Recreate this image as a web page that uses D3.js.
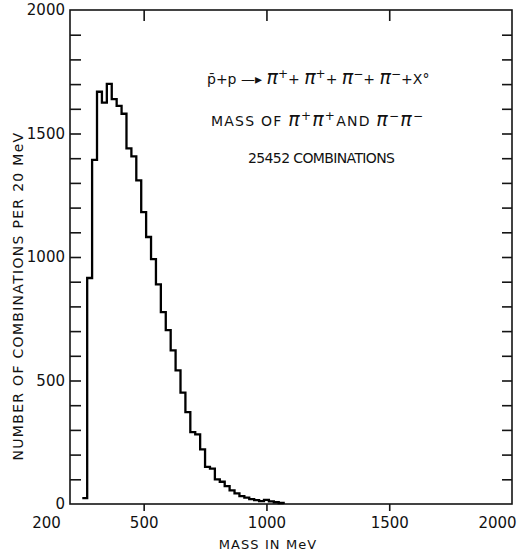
<!DOCTYPE html>
<html>
<head>
<meta charset="utf-8">
<script src="https://cdn.jsdelivr.net/npm/d3@7"></script>
<style>
  body { margin: 0; background: #fff; }
  svg text { font-family: "DejaVu Sans", sans-serif; fill: #111; }
</style>
</head>
<body>
<svg id="chart" width="518" height="556"></svg>
<script>
// Invariant mass histogram, 20 MeV bins
const binStart = 250;   // MeV, lower edge of first bin
const binWidth = 20;    // MeV
const counts = [24, 915, 1393, 1669, 1625, 1701, 1639, 1612, 1580, 1440,
                1407, 1310, 1182, 1081, 991, 889, 777, 704, 622, 541,
                451, 372, 291, 282, 221, 150, 143, 100, 90, 72,
                55, 43, 32, 26, 20, 16, 12, 17, 11, 7, 4];

const xLabelTicks = [200, 500, 1000, 1500, 2000];
const xInnerTicks = [500, 1000, 1500];
const yLabelTicks = [0, 500, 1000, 1500, 2000];
const yMinorTicks = d3.range(100, 2000, 100);

const svg = d3.select("#chart");

const x = d3.scaleLinear().domain([200, 2000]).range([70, 512]);
const y = d3.scaleLinear().domain([0, 2000]).range([504, 10]);

const ink = "#151515";
const plain = d3.format("d");

// frame
svg.append("rect")
  .attr("x", x(200)).attr("y", y(2000))
  .attr("width", x(2000) - x(200)).attr("height", y(0) - y(2000))
  .attr("fill", "none").attr("stroke", ink).attr("stroke-width", 1.6);

function styleAxis(g) {
  g.select(".domain").remove();
  g.selectAll(".tick line").attr("stroke", ink).attr("stroke-width", 1.6);
  g.selectAll(".tick text").attr("fill", ink).style("font-size", "15px");
}

// left axis: ticks every 100 pointing inward, labels every 500
svg.append("g")
  .attr("transform", `translate(${x(200)},0)`)
  .call(d3.axisLeft(y).tickValues(yMinorTicks).tickSize(-11).tickFormat(""))
  .call(styleAxis);
svg.append("g")
  .attr("transform", `translate(${x(200)},0)`)
  .call(d3.axisLeft(y).tickValues(yLabelTicks).tickSize(0).tickPadding(5).tickFormat(plain))
  .call(styleAxis);

// right axis: inward ticks every 100
svg.append("g")
  .attr("transform", `translate(${x(2000)},0)`)
  .call(d3.axisRight(y).tickValues(yMinorTicks).tickSize(-10).tickFormat(""))
  .call(styleAxis);

// top axis: inward ticks
svg.append("g")
  .attr("transform", `translate(0,${y(2000)})`)
  .call(d3.axisTop(x).tickValues(xInnerTicks).tickSize(-11).tickFormat(""))
  .call(styleAxis);

// bottom axis: outward ticks with labels
svg.append("g")
  .attr("transform", `translate(0,${y(0)})`)
  .call(d3.axisBottom(x).tickValues(xInnerTicks).tickSize(7).tickFormat(""))
  .call(styleAxis);
const bottomLabels = svg.append("g")
  .attr("transform", `translate(0,${y(0)})`)
  .call(d3.axisBottom(x).tickValues(xLabelTicks).tickSize(0).tickPadding(13).tickFormat(plain))
  .call(styleAxis);
// end labels sit inside the page edges
bottomLabels.selectAll(".tick text")
  .attr("dx", d => d === 200 ? -24 : d === 2000 ? -15 : 0);

// histogram outline
const pts = counts.map((c, i) => [binStart + i * binWidth, c]);
pts.push([binStart + counts.length * binWidth, 0]);
svg.append("path")
  .datum(pts)
  .attr("fill", "none")
  .attr("stroke", "#000")
  .attr("stroke-width", 2.3)
  .attr("stroke-linejoin", "miter")
  .attr("d", d3.line().x(d => x(d[0])).y(d => y(d[1])).curve(d3.curveStepAfter));

// axis titles
svg.append("text")
  .attr("x", 268).attr("y", 549)
  .attr("text-anchor", "middle")
  .style("font-size", "13px").style("letter-spacing", "1.1px")
  .text("MASS IN MeV");

svg.append("text")
  .attr("transform", "translate(23,296) rotate(-90)")
  .attr("text-anchor", "middle")
  .style("font-size", "14px").style("letter-spacing", "1.3px")
  .text("NUMBER OF COMBINATIONS PER 20 MeV");

// reaction annotation
const note = svg.append("g").style("font-size", "14px");

function pion(textSel, sign, after) {
  textSel.append("tspan").style("font-size", "19px").style("font-style", "italic").text("\u03C0");
  textSel.append("tspan").attr("baseline-shift", "6px").style("font-size", "12px").text(sign);
  if (after) textSel.append("tspan").text(after);
}

const l1 = note.append("text").attr("x", 207).attr("y", 84);
l1.append("tspan").text("p\u0304+p \u2014\u25B8 ");
pion(l1, "+", "+ ");
pion(l1, "+", "+ ");
pion(l1, "\u2212", "+ ");
pion(l1, "\u2212", "+X\u00B0");

const l2 = note.append("text").attr("x", 211).attr("y", 126)
  .attr("textLength", 212).attr("lengthAdjust", "spacing");
l2.append("tspan").text("MASS OF ");
pion(l2, "+");
pion(l2, "+", "AND ");
pion(l2, "\u2212");
pion(l2, "\u2212");

note.append("text").attr("x", 248).attr("y", 163)
  .attr("textLength", 147).attr("lengthAdjust", "spacing")
  .text("25452 COMBINATIONS");
</script>
</body>
</html>
